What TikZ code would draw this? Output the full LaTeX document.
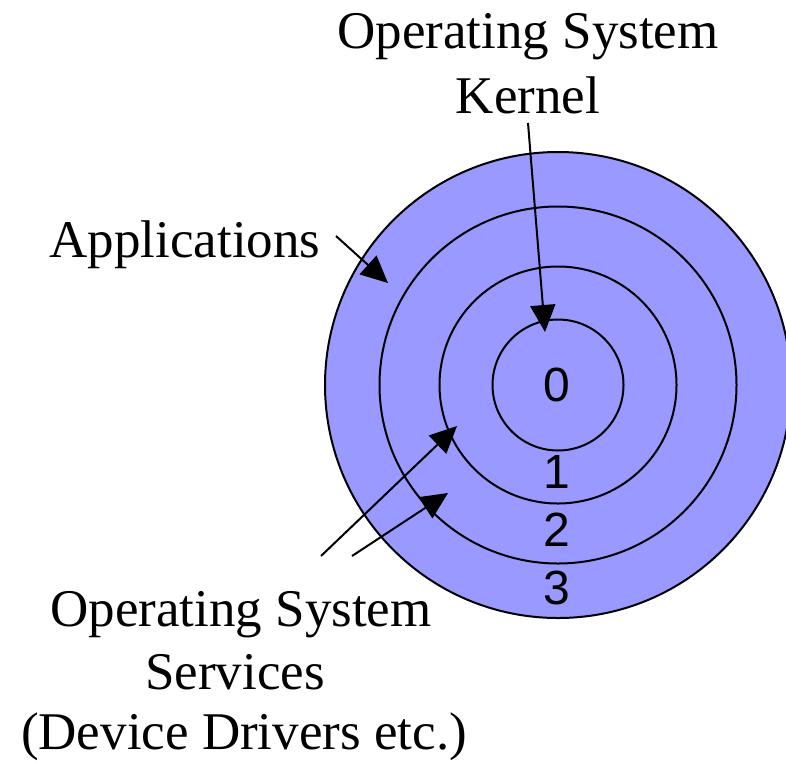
\documentclass[tikz,border=0pt]{standalone}
\usepackage{fontspec}
\setmainfont{Liberation Serif}
\newfontfamily\numfont{Liberation Sans}
\usetikzlibrary{arrows.meta}
\definecolor{ringfill}{RGB}{153,153,255}
\tikzset{
  ring/.style={circle, draw=black, fill=ringfill, line width=2pt, inner sep=0pt},
  lbl/.style={font=\fontsize{53}{65}\selectfont, inner sep=0pt, anchor=base},
  numlbl/.style={font=\numfont\fontsize{48}{56}\selectfont, inner sep=0pt},
  pointer/.style={line width=2pt, -{Triangle[length=27pt,width=25pt]}}
}
\begin{document}
\begin{tikzpicture}[x=1pt,y=-1pt]
\useasboundingbox (0,0) rectangle (786,761);
\clip (0,0) rectangle (786,761);
\fill[white] (0,0) rectangle (786,761);
\coordinate (ctr) at (558,385);
\node[ring, minimum size=466pt] (r3) at (ctr) {};
\node[ring, minimum size=357pt] (r2) at (ctr) {};
\node[ring, minimum size=237pt] (r1) at (ctr) {};
\node[ring, minimum size=131pt] (r0) at (ctr) {};
\node[numlbl] (n0) at (557,385) {0};
\node[numlbl] (n1) at (557,472) {1};
\node[numlbl] (n2) at (557,530) {2};
\node[numlbl] (n3) at (557,588) {3};
\node[lbl] (k1) at (528,48) {Operating System};
\node[lbl] (k2) at (528,113) {Kernel};
\node[lbl] (app) at (185,257) {Applications};
\node[lbl] (s1) at (241,626) {Operating System};
\node[lbl] (s2) at (235,689) {Services};
\node[lbl] (s3) at (244,749) {(Device Drivers etc.)};
\coordinate (kstart) at (528,123);
\coordinate (ktip) at (545,332);
\coordinate (astart) at (336,236);
\coordinate (atip) at (388,283);
\coordinate (sstartA) at (321,556);
\coordinate (stipA) at (457,426);
\coordinate (sstartB) at (352,556);
\coordinate (stipB) at (448,493);
\draw[pointer] (kstart) -- (ktip);
\draw[pointer] (astart) -- (atip);
\draw[pointer] (sstartA) -- (stipA);
\draw[pointer] (sstartB) -- (stipB);
\end{tikzpicture}
\end{document}
